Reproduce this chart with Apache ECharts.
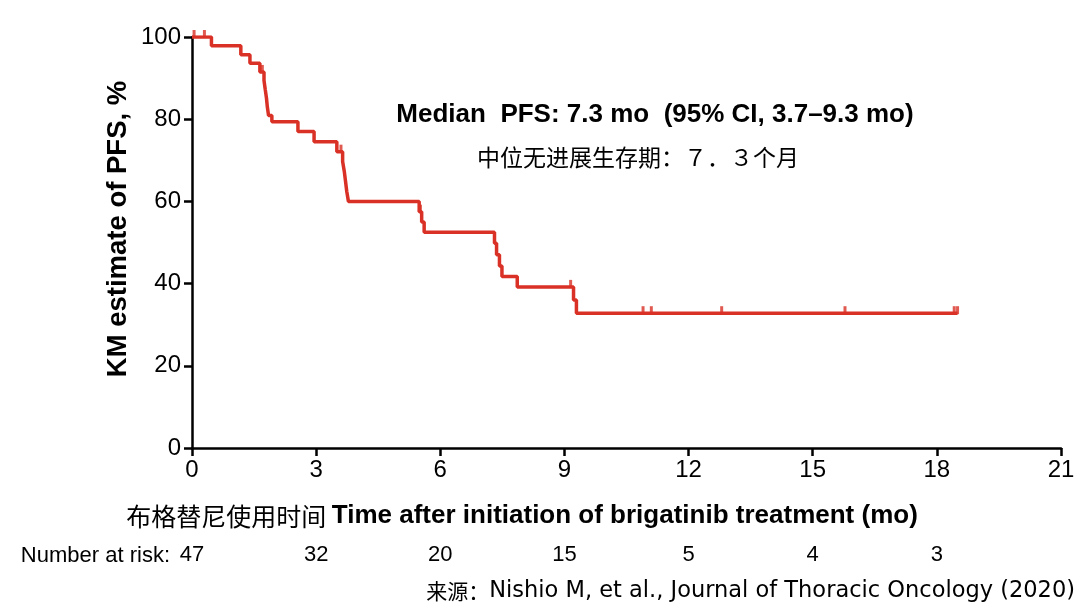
<!DOCTYPE html>
<html>
<head>
<meta charset="utf-8">
<script src="https://cdn.jsdelivr.net/npm/echarts@6/dist/echarts.min.js"></script>
<style>
html,body{margin:0;padding:0;background:#fff;}
#chart{width:1080px;height:610px;}
</style>
</head>
<body>
<div id="chart"></div>
<script>
// KM step points: [time (mo), survival %]
const kmSteps = [
  [0, 100], [0.47, 97.9], [1.18, 95.7], [1.40, 93.6], [1.64, 91.5], [1.74, 89.4],
  [1.77, 87.2], [1.80, 85.1], [1.82, 83.0], [1.85, 80.9], [1.93, 79.4],
  [2.56, 77.0], [2.95, 74.5], [3.50, 72.1], [3.64, 69.7], [3.68, 67.3],
  [3.71, 64.9], [3.74, 62.4], [3.78, 60.0], [5.49, 57.5], [5.55, 55.0],
  [5.61, 52.5], [7.31, 49.8], [7.36, 47.0], [7.43, 44.3], [7.49, 41.7],
  [7.86, 39.2], [9.22, 36.0], [9.29, 32.8], [18.5, 32.8]
];
// censored observations
const censored = [
  [0.05, 100], [0.30, 100], [1.70, 91.5], [3.60, 72.1], [5.52, 57.5],
  [9.15, 39.2], [10.9, 32.8], [11.1, 32.8], [12.8, 32.8], [15.78, 32.8],
  [18.42, 32.8], [18.5, 32.8]
];
const riskTimes = [0, 3, 6, 9, 12, 15, 18];
const riskCounts = [47, 32, 20, 15, 5, 4, 3];
const yTicks = [0, 20, 40, 60, 80, 100];
const xTicks = [0, 3, 6, 9, 12, 15, 18, 21];

const RED = '#DA3126';
const FONT = "'Liberation Sans', Arial, Helvetica, sans-serif";
const CJK = "'Noto Sans CJK SC', 'Noto Sans', sans-serif";

const chart = echarts.init(document.getElementById('chart'), null, {renderer: 'canvas'});
chart.setOption({
  animation: false,
  backgroundColor: '#fff',
  grid: [
    {left: 192, right: 19, top: 37, bottom: 162},
    {left: 192, right: 19, top: 543, height: 24}
  ],
  xAxis: [
    {
      gridIndex: 0, type: 'value', min: xTicks[0], max: xTicks[xTicks.length - 1], interval: 3,
      axisLine: {show: true, onZero: false, lineStyle: {color: '#000', width: 2.5}},
      axisTick: {show: true, length: 8, lineStyle: {color: '#000', width: 2.5}},
      axisLabel: {color: '#000', fontSize: 24, fontFamily: FONT, margin: 10},
      splitLine: {show: false}
    },
    {
      gridIndex: 1, type: 'value', min: 0, max: 21, show: false
    }
  ],
  yAxis: [
    {
      gridIndex: 0, type: 'value', min: yTicks[0], max: yTicks[yTicks.length - 1], interval: 20,
      axisLine: {show: true, lineStyle: {color: '#000', width: 2.5}},
      axisTick: {show: true, length: 8, lineStyle: {color: '#000', width: 2.5}},
      axisLabel: {color: '#000', fontSize: 24, fontFamily: FONT, margin: 11},
      splitLine: {show: false}
    },
    {
      gridIndex: 1, type: 'value', min: -1, max: 1, show: false
    }
  ],
  series: [
    {
      type: 'line', xAxisIndex: 0, yAxisIndex: 0, step: 'end', data: kmSteps,
      symbol: 'none', lineStyle: {color: RED, width: 3.5}, z: 3
    },
    {
      type: 'scatter', xAxisIndex: 0, yAxisIndex: 0, data: censored,
      symbol: 'rect', symbolSize: [3, 8], symbolOffset: [0, -3],
      itemStyle: {color: RED}, z: 4
    },
    {
      type: 'scatter', xAxisIndex: 1, yAxisIndex: 1,
      data: riskTimes.map((t, i) => [t, 0, riskCounts[i]]),
      symbolSize: 1, itemStyle: {color: '#fff', opacity: 0},
      label: {
        show: true, position: 'inside', color: '#000', fontSize: 22, fontFamily: FONT,
        textBorderWidth: 0, opacity: 1,
        formatter: p => String(p.value[2])
      }
    }
  ],
  graphic: [
    {
      type: 'text', x: 118, y: 229, rotation: Math.PI / 2,
      style: {
        text: 'KM estimate of PFS, %',
        font: "bold 27.5px " + FONT, fill: '#000', align: 'center', verticalAlign: 'middle'
      }
    },
    {
      type: 'text',
      style: {
        text: 'Median  PFS: 7.3 mo  (95% CI, 3.7\u20139.3 mo)',
        x: 655, y: 115,
        font: "bold 26px " + FONT, fill: '#000', align: 'center', verticalAlign: 'middle'
      }
    },
    {
      type: 'text',
      style: {
        text: '中位无进展生存期：７．３个月',
        font: "23px " + CJK, fill: '#000', align: 'center', verticalAlign: 'middle', x: 638, y: 157
      }
    },
    {
      type: 'text',
      style: {
        text: '{cn|布格替尼使用时间 }{en|Time after initiation of brigatinib treatment (mo)}',
        x: 522, y: 516, align: 'center', verticalAlign: 'middle',
        rich: {
          cn: {font: "25px " + CJK, fill: '#000'},
          en: {font: "bold 26px " + FONT, fill: '#000'}
        }
      }
    },
    {
      type: 'text',
      style: {
        text: 'Number at risk:', x: 170, y: 556, align: 'right', verticalAlign: 'middle',
        font: "22px " + FONT, fill: '#000'
      }
    },
    {
      type: 'text',
      style: {
        text: '{cn|来源：}{en|Nishio M, et al., Journal of Thoracic Oncology (2020)}',
        x: 1075, y: 591, align: 'right', verticalAlign: 'middle',
        rich: {
          cn: {font: "21px " + CJK, fill: '#000'},
          en: {font: "22.5px 'DejaVu Sans', sans-serif", fill: '#000'}
        }
      }
    }
  ]
});
</script>
</body>
</html>
